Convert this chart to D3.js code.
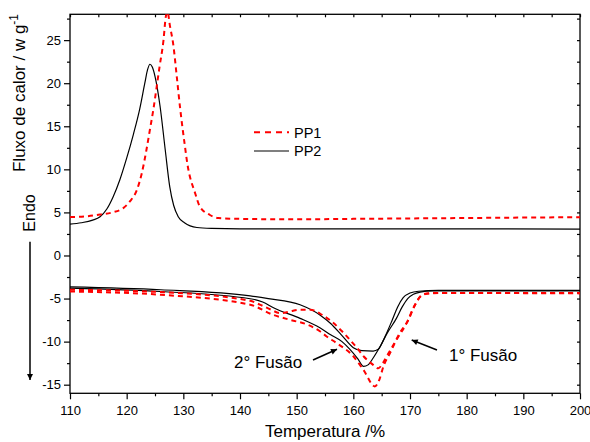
<!DOCTYPE html>
<html>
<head>
<meta charset="utf-8">
<script src="https://cdn.jsdelivr.net/npm/d3@7"></script>
<style>
  body { margin: 0; background: #fff; }
  svg text { font-family: "Liberation Sans", Arial, sans-serif; fill: #000; }
</style>
</head>
<body>
<div id="chart"></div>
<script>
// crystallization exotherms (upper curves)
const pp1Cryst = [[110,4.45],[113,4.55],[115.3,4.75],[117.5,5.0],[119.4,5.5],[120.6,6.3],[121.8,7.6],[122.65,9.5],
  [123.5,12.3],[124.1,14.6],[124.7,16.9],[125.3,19.6],[125.8,21.9],[126.5,25.0],[126.9,27.7],[127.2,28.3],
  [127.65,26.6],[128.2,24.6],[128.9,20.4],[129.4,17.3],[130.3,12.6],[130.7,10.7],[132.1,7.2],[132.9,5.7],
  [134.7,4.7],[136.2,4.34],[140,4.25],[150,4.2],[160,4.25],[170,4.3],[180,4.35],[190,4.4],[200,4.45]];
const pp2Cryst = [[110,3.65],[112,3.8],[114,4.1],[115.3,4.5],[116.5,5.4],[117.6,6.8],[118.8,8.8],[120,11.3],
  [121.2,14.1],[122.3,17.0],[123.2,20.0],[123.7,21.6],[124.1,22.2],[124.5,21.9],[125.0,20.8],[125.9,17.3],
  [126.8,12.3],[127.6,8.0],[128.3,5.8],[129.1,4.5],[130.2,3.8],[132.4,3.25],[135,3.15],[140,3.1],
  [160,3.1],[180,3.1],[200,3.05]];

// melting endotherms (lower curves)
const pp1MeltA = [[110,-3.98],[126,-4.25],[141.8,-5.26],[143.5,-5.7],[145.5,-6.3],[147.1,-6.7],[148.8,-6.5],
  [150.5,-6.3],[152.4,-6.3],[154.5,-6.9],[156.5,-7.85],[158,-8.8],[159.4,-9.8],[160.6,-10.7],[161.8,-11.7],
  [163.5,-12.7],[164.4,-13.1],[165.2,-12.5],[165.9,-11.7],[167.6,-9.8],[169.4,-7.85],[170.9,-5.7],
  [172.3,-4.5],[174,-4.35],[180,-4.35],[200,-4.35]];
const pp1MeltB = [[110,-4.18],[126,-4.56],[141.8,-5.72],[145.9,-6.9],[149,-7.5],[151.8,-8.0],[154.1,-8.8],
  [155.3,-9.4],[157.1,-10.2],[160,-11.7],[161.8,-13.3],[163.8,-15.2],[164.6,-14.4],[165.3,-12.9],
  [166.5,-11.3],[168.2,-9.0],[169.7,-7.5],[170.7,-6.0],[171.8,-4.8],[173,-4.45],[176,-4.35],[200,-4.4]];
const pp2MeltA = [[110,-3.65],[126,-3.98],[141.8,-4.68],[145,-5.0],[150.6,-5.72],[154.1,-6.9],[156,-7.9],
  [158,-9.3],[160,-10.7],[161.5,-11.05],[163.5,-11.1],[164.4,-10.9],[165.6,-9.4],[166.8,-7.6],[167.8,-6.0],
  [168.8,-4.9],[170,-4.35],[171.5,-4.15],[175,-4.05],[180,-4.05],[200,-4.05]];
const pp2MeltB = [[110,-3.78],[126,-4.18],[141.8,-5.02],[144,-5.4],[146,-6.1],[150.6,-7.3],[154.1,-8.4],
  [156,-9.2],[158,-10.0],[159.4,-10.9],[160.8,-12.0],[161.8,-12.88],[162.6,-12.7],[163.5,-11.9],
  [164.7,-10.6],[166,-9.0],[167.6,-7.3],[168.6,-6.0],[169.6,-5.0],[170.6,-4.5],[171.8,-4.25],[174,-4.12],
  [180,-4.1],[200,-4.1]];

const xMajor = [110,120,130,140,150,160,170,180,190,200];
const xMinor = [115,125,135,145,155,165,175,185,195];
const yMajor = [-15,-10,-5,0,5,10,15,20,25];
const yMinor = [-12.5,-7.5,-2.5,2.5,7.5,12.5,17.5,22.5,27.5];

const width = 590, height = 442;
const margin = {top: 14.3, right: 10, bottom: 48.7, left: 70};

const svg = d3.select('#chart').append('svg')
  .attr('width', width).attr('height', height);

const x = d3.scaleLinear().domain([110,200]).range([margin.left, width - margin.right]);
const y = d3.scaleLinear().domain([-16,28]).range([height - margin.bottom, margin.top]);

svg.append('defs').append('clipPath').attr('id','plot')
  .append('rect').attr('x', x(110)).attr('y', y(28)).attr('width', x(200)-x(110)).attr('height', y(-16)-y(28));

function styleAxis(g) {
  g.select('.domain').remove();
  g.selectAll('line').attr('stroke','#000').attr('stroke-width',1.2);
  g.selectAll('text').attr('font-size','13px').attr('font-family','"Liberation Sans", Arial, sans-serif');
}

// bottom axis
svg.append('g').attr('transform',`translate(0,${y(-16)})`)
  .call(d3.axisBottom(x).tickValues(xMajor).tickSize(6).tickPadding(6).tickFormat(d => String(d)))
  .call(styleAxis);
svg.append('g').attr('transform',`translate(0,${y(-16)})`)
  .call(d3.axisBottom(x).tickValues(xMinor).tickSize(3).tickFormat(''))
  .call(styleAxis);
// left axis
svg.append('g').attr('transform',`translate(${x(110)},0)`)
  .call(d3.axisLeft(y).tickValues(yMajor).tickSize(6).tickPadding(3).tickFormat(d => String(d)))
  .call(styleAxis);
svg.append('g').attr('transform',`translate(${x(110)},0)`)
  .call(d3.axisLeft(y).tickValues(yMinor).tickSize(3).tickFormat(''))
  .call(styleAxis);
// top and right mirror ticks
svg.append('g').attr('transform',`translate(0,${y(28)})`)
  .call(d3.axisTop(x).tickValues(xMajor.concat(xMinor)).tickSize(-3).tickFormat(''))
  .call(styleAxis);
svg.append('g').attr('transform',`translate(${x(200)},0)`)
  .call(d3.axisRight(y).tickValues(yMajor.concat(yMinor)).tickSize(-3).tickFormat(''))
  .call(styleAxis);

svg.append('rect')
  .attr('x', x(110)).attr('y', y(28))
  .attr('width', x(200)-x(110)).attr('height', y(-16)-y(28))
  .attr('fill','none').attr('stroke','#000').attr('stroke-width',1.3);

const line = d3.line().x(d => x(d[0])).y(d => y(d[1])).curve(d3.curveMonotoneX);

const curves = [
  {data: pp2Cryst, color:'#000', w:1.2, dash:null},
  {data: pp2MeltA, color:'#000', w:1.2, dash:null},
  {data: pp2MeltB, color:'#000', w:1.2, dash:null},
  {data: pp1Cryst, color:'#ff0000', w:2, dash:'5,4'},
  {data: pp1MeltA, color:'#ff0000', w:2, dash:'5,4'},
  {data: pp1MeltB, color:'#ff0000', w:2, dash:'5,4'}
];

svg.append('g').attr('clip-path','url(#plot)')
  .selectAll('path')
  .data(curves)
  .join('path')
    .attr('d', d => line(d.data))
    .attr('fill','none')
    .attr('stroke', d => d.color)
    .attr('stroke-width', d => d.w)
    .attr('stroke-dasharray', d => d.dash);

// legend
const legend = svg.append('g');
legend.append('line').attr('x1',254).attr('x2',289).attr('y1',132.3).attr('y2',132.3)
  .attr('stroke','#ff0000').attr('stroke-width',2).attr('stroke-dasharray','6,5');
legend.append('text').attr('x',294).attr('y',137.5).attr('font-size','14.5px').text('PP1');
legend.append('line').attr('x1',254).attr('x2',289).attr('y1',151).attr('y2',151)
  .attr('stroke','#000').attr('stroke-width',1.2);
legend.append('text').attr('x',294).attr('y',156.2).attr('font-size','14.5px').text('PP2');

// arrow marker
svg.select('defs').append('marker')
  .attr('id','head').attr('viewBox','0 0 10 10').attr('refX',10).attr('refY',5)
  .attr('markerWidth',9).attr('markerHeight',6).attr('markerUnits','userSpaceOnUse')
  .attr('orient','auto')
  .append('path').attr('d','M0,0L10,5L0,10z').attr('fill','#000');

// annotations
svg.append('text').attr('x',234).attr('y',368.3).attr('font-size','17px').text('2° Fusão');
svg.append('line').attr('x1',313).attr('y1',360).attr('x2',337).attr('y2',349.3)
  .attr('stroke','#000').attr('stroke-width',1.5).attr('marker-end','url(#head)');
svg.append('text').attr('x',449).attr('y',360.7).attr('font-size','17px').text('1° Fusão');
svg.append('line').attr('x1',437).attr('y1',350).attr('x2',411.7).attr('y2',340)
  .attr('stroke','#000').attr('stroke-width',1.5).attr('marker-end','url(#head)');

// endo arrow
svg.append('text').attr('transform','translate(35,213) rotate(-90)')
  .attr('text-anchor','middle').attr('font-size','16px').text('Endo');
svg.append('line').attr('x1',30).attr('x2',30).attr('y1',241.7).attr('y2',380)
  .attr('stroke','#000').attr('stroke-width',1.5).attr('marker-end','url(#head)');

// axis titles
svg.append('text').attr('x',325).attr('y',437).attr('text-anchor','middle')
  .attr('font-size','17px').text('Temperatura /%');
const yt = svg.append('text').attr('transform','translate(25,93) rotate(-90)')
  .attr('text-anchor','middle').attr('font-size','17px');
yt.append('tspan').text('Fluxo de calor / w g');
yt.append('tspan').attr('dy',-7).attr('font-size','12px').text('-1');
</script>
</body>
</html>
